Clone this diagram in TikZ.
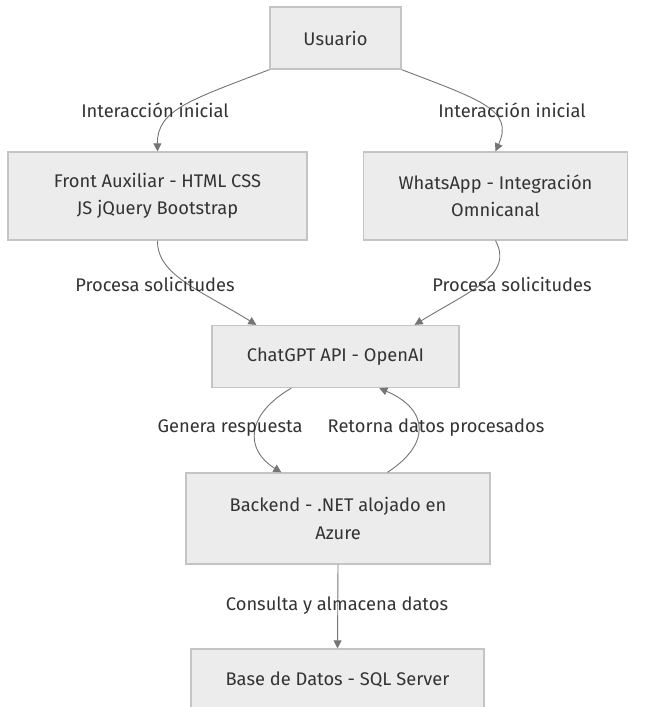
\documentclass[tikz,border=0pt]{standalone}
\usepackage{fontspec}
\setmainfont{Fira Sans}
\usetikzlibrary{arrows.meta,calc}
\definecolor{boxfill}{HTML}{ECECEC}
\definecolor{boxline}{HTML}{C4C4C4}
\definecolor{edgecol}{HTML}{757575}
\definecolor{txt}{HTML}{333333}
\begin{document}
\begin{tikzpicture}[x=1pt,y=-1pt,
  box/.style={draw=boxline,fill=boxfill,line width=1.3pt,inner sep=0pt,align=center,text=txt,
    font=\fontsize{18.3}{27.5}\selectfont},
  lbl/.style={inner sep=0pt,text=txt,font=\fontsize{18.3}{20}\selectfont},
  edge/.style={draw=edgecol,line width=0.9pt,-{Triangle[length=8pt,width=8pt]}}]
\clip (0,0) rectangle (655,707);
\fill[white] (0,0) rectangle (655,707);
\node[box,minimum width=131pt,minimum height=62pt] (usr) at (335.5,38) {Usuario};
\node[box,minimum width=299pt,minimum height=88pt] (front) at (157.5,196) {Front Auxiliar - HTML CSS\\JS jQuery Bootstrap};
\node[box,minimum width=264pt,minimum height=88pt] (wa) at (495.5,196) {WhatsApp - Integración\\Omnicanal};
\node[box,minimum width=247pt,minimum height=62pt] (gpt) at (335.5,356.5) {ChatGPT API - OpenAI};
\node[box,minimum width=304pt,minimum height=91pt] (be) at (338,518.5) {Backend - .NET alojado en\\Azure};
\node[box,minimum width=293pt,minimum height=62pt] (db) at (337.5,680) {Base de Datos - SQL Server};

\coordinate (uL) at (usr.south west);
\coordinate (uR) at (usr.south east);
\draw[edge] (uL) .. controls (190,100) and (157,110) .. (front.north);
\draw[edge] (uR) .. controls (481,100) and (514,110) .. (wa.north);
\draw[edge] (front.south) .. controls (157,275) and (200,290) .. ($(gpt.north west)+(45,0)$);
\draw[edge] (wa.south) .. controls (514,275) and (471,290) .. ($(gpt.north east)+(-45,0)$);
\draw[edge] ($(gpt.south west)+(80,0)$) .. controls (245,415) and (245,450) .. ($(be.north west)+(96,0)$);
\draw[edge] ($(be.north west)+(202,0)$) .. controls (430,445) and (430,410) .. ($(gpt.south west)+(168,0)$);
\draw[edge] (be.south) -- (db.north);

\node[lbl] (l1) at (155,110) {Interacción inicial};
\node[lbl] (l2) at (512,110) {Interacción inicial};
\node[lbl] (l3) at (155,284) {Procesa solicitudes};
\node[lbl] (l4) at (512,284) {Procesa solicitudes};
\node[lbl] (l5) at (230,428) {Genera respuesta};
\node[lbl] (l6) at (436,428) {Retorna datos procesados};
\node[lbl] (l7) at (337,606) {Consulta y almacena datos};
\end{tikzpicture}
\end{document}
